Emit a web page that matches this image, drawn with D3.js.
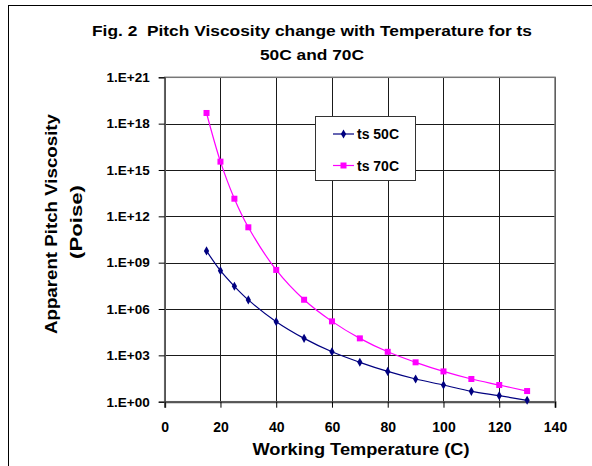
<!DOCTYPE html>
<html>
<head>
<meta charset="utf-8">
<script src="https://cdn.jsdelivr.net/npm/d3@7"></script>
<style>
  html, body { margin: 0; padding: 0; background: #fff; }
  svg { display: block; }
  text { font-family: "Liberation Sans", Arial, sans-serif; font-weight: bold; fill: #000; white-space: pre; }
</style>
</head>
<body>
<script>
// ---- data ----
const temps50 = [15, 20, 25, 30, 40, 50, 60, 70, 80, 90, 100, 110, 120, 130];
const logVisc50 = [9.76, 8.48, 7.47, 6.59, 5.18, 4.1, 3.23, 2.55, 1.96, 1.47, 1.08, 0.67, 0.39, 0.09];
const temps70 = [15, 20, 25, 30, 40, 50, 60, 70, 80, 90, 100, 110, 120, 130];
const logVisc70 = [18.69, 15.54, 13.14, 11.29, 8.53, 6.6, 5.2, 4.1, 3.23, 2.55, 1.96, 1.47, 1.08, 0.69];
const seriesNames = ["ts 50C", "ts 70C"];
const xTicks = [0, 20, 40, 60, 80, 100, 120, 140];
const yTicks = [1e0, 1e3, 1e6, 1e9, 1e12, 1e15, 1e18, 1e21];
const yTickLabels = ["1.E+00", "1.E+03", "1.E+06", "1.E+09", "1.E+12", "1.E+15", "1.E+18", "1.E+21"];
const titleLines = ["Fig. 2  Pitch Viscosity change with Temperature for ts", "50C and 70C"];
const xTitle = "Working Temperature (C)";
const yTitleLines = ["Apparent Pitch Viscosity", "(Poise)"];

const W = 592, H = 466;
const svg = d3.select("body").append("svg").attr("width", W).attr("height", H);

const pLeft = 164.7, pRight = 555, pTop = 77.3, pBottom = 401.7;
const x = d3.scaleLinear().domain([0, 140]).range([pLeft, pRight]);
const y = d3.scaleLog().domain([1e0, 1e21]).range([pBottom, pTop]);

// outer frame (left and top edges visible)
svg.append("line").attr("x1", 8.5).attr("x2", 8.5).attr("y1", 5).attr("y2", H).attr("stroke", "#000").attr("stroke-width", 1);
svg.append("line").attr("x1", 8).attr("x2", W).attr("y1", 5.5).attr("y2", 5.5).attr("stroke", "#000").attr("stroke-width", 1);

// gridlines
const grid = svg.append("g");
grid.selectAll("line.h").data(yTicks).join("line")
  .attr("x1", pLeft).attr("x2", pRight)
  .attr("y1", d => Math.round(y(d)) + 0.5).attr("y2", d => Math.round(y(d)) + 0.5)
  .attr("stroke", "#1a1a1a").attr("stroke-width", 1);
grid.selectAll("line.v").data(xTicks).join("line")
  .attr("x1", d => Math.round(x(d)) + 0.5).attr("x2", d => Math.round(x(d)) + 0.5)
  .attr("y1", pTop).attr("y2", pBottom)
  .attr("stroke", "#1a1a1a").attr("stroke-width", 1);
// plot border
svg.append("rect").attr("x", pLeft).attr("y", pTop).attr("width", pRight - pLeft).attr("height", pBottom - pTop)
  .attr("fill", "none").attr("stroke", "#777").attr("stroke-width", 1.5);

// axes
const yAxis = d3.axisLeft(y).tickValues(yTicks).tickFormat((d, i) => yTickLabels[i]).tickSize(6).tickPadding(9);
const gy = svg.append("g").attr("transform", `translate(${pLeft},0)`).call(yAxis);
const xAxis = d3.axisBottom(x).tickValues(xTicks).tickFormat(d3.format("d")).tickSize(6).tickPadding(14);
const gx = svg.append("g").attr("transform", `translate(0,${pBottom})`).call(xAxis);
[gx, gy].forEach(g => {
  g.select(".domain").attr("stroke", "#555").attr("stroke-width", 1.5);
  g.selectAll(".tick line").attr("stroke", "#000");
  g.selectAll(".tick text").attr("font-family", "Liberation Sans, Arial, sans-serif")
    .attr("font-weight", "bold").attr("fill", "#000");
});
gy.selectAll(".tick text").attr("font-size", 13.5);
gx.selectAll(".tick text").attr("font-size", 14);
gx.select(".domain").attr("stroke-width", 2);

// series
const line = d3.line().x(d => x(d[0])).y(d => y(Math.pow(10, d[1]))).curve(d3.curveCatmullRom.alpha(0.5));
const s50 = temps50.map((t, i) => [t, logVisc50[i]]);
const s70 = temps70.map((t, i) => [t, logVisc70[i]]);
const c50 = "#000080", c70 = "#FF00FF";

svg.append("path").datum(s70).attr("d", line).attr("fill", "none").attr("stroke", c70).attr("stroke-width", 1.2);
svg.append("path").datum(s50).attr("d", line).attr("fill", "none").attr("stroke", c50).attr("stroke-width", 1.2);

const diamond = d3.symbol().type(d3.symbolDiamond).size(24);
svg.append("g").selectAll("path").data(s50).join("path")
  .attr("d", diamond).attr("fill", c50)
  .attr("transform", d => `translate(${x(d[0])},${y(Math.pow(10, d[1]))})`);
svg.append("g").selectAll("rect").data(s70).join("rect")
  .attr("x", d => x(d[0]) - 3).attr("y", d => y(Math.pow(10, d[1])) - 3)
  .attr("width", 6).attr("height", 6).attr("fill", c70);

// legend
const lg = svg.append("g");
lg.append("rect").attr("x", 315.5).attr("y", 116.5).attr("width", 100).attr("height", 64)
  .attr("fill", "#fff").attr("stroke", "#333").attr("stroke-width", 1);
const legendRows = [{ name: seriesNames[0], color: c50, ly: 134 }, { name: seriesNames[1], color: c70, ly: 165.5 }];
legendRows.forEach((r, i) => {
  lg.append("line").attr("x1", 333).attr("x2", 354).attr("y1", r.ly).attr("y2", r.ly)
    .attr("stroke", r.color).attr("stroke-width", 1.2);
  if (i === 0) {
    lg.append("path").attr("d", diamond).attr("fill", r.color).attr("transform", `translate(343.5,${r.ly})`);
  } else {
    lg.append("rect").attr("x", 340.5).attr("y", r.ly - 3).attr("width", 6).attr("height", 6).attr("fill", r.color);
  }
  lg.append("text").attr("x", 357).attr("y", r.ly).attr("dy", "0.36em").attr("font-size", 14).text(r.name);
});

// titles
const t1 = svg.append("text").attr("x", 312).attr("y", 35.7).attr("text-anchor", "middle").attr("font-size", 15.5)
  .text(titleLines[0]);
const stretch = 440 / t1.node().getComputedTextLength();
t1.attr("textLength", 440).attr("lengthAdjust", "spacingAndGlyphs");
const t2 = svg.append("text").attr("x", 312).attr("y", 60).attr("text-anchor", "middle").attr("font-size", 15.5)
  .text(titleLines[1]);
t2.attr("textLength", t2.node().getComputedTextLength() * stretch).attr("lengthAdjust", "spacingAndGlyphs");
svg.append("text").attr("x", 361).attr("y", 454.5).attr("text-anchor", "middle").attr("font-size", 16)
  .attr("textLength", 217).attr("lengthAdjust", "spacingAndGlyphs").text(xTitle);
svg.append("text").attr("transform", "translate(56.5,224) rotate(-90)").attr("text-anchor", "middle")
  .attr("font-size", 17).attr("textLength", 220).attr("lengthAdjust", "spacingAndGlyphs").text(yTitleLines[0]);
svg.append("text").attr("transform", "translate(82,222) rotate(-90)").attr("text-anchor", "middle")
  .attr("font-size", 17).attr("textLength", 74).attr("lengthAdjust", "spacingAndGlyphs").text(yTitleLines[1]);
</script>
</body>
</html>
